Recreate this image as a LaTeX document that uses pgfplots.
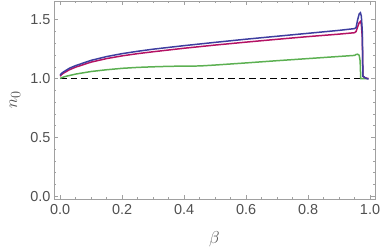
\documentclass[border=0pt]{standalone}
\usepackage{pgfplots}
\pgfplotsset{compat=1.18}
\usepackage{fontspec}
\setmainfont{Liberation Sans}
\definecolor{blueC}{RGB}{62,62,160}
\definecolor{redC}{RGB}{180,18,100}
\definecolor{greenC}{RGB}{92,176,82}
\definecolor{frameC}{RGB}{160,160,160}
\definecolor{labC}{RGB}{80,80,80}
\begin{document}
\begin{tikzpicture}
\begin{axis}[
  width=321bp, height=198bp, scale only axis,
  xmin=-0.02, xmax=1.016, ymin=-0.025, ymax=1.66,
  xtick={0,0.2,0.4,0.6,0.8,1.0}, ytick={0,0.5,1,1.5},
  minor x tick num=3, minor y tick num=4,
  tick align=inside, major tick length=4bp, minor tick length=2.2bp,
  axis line style={frameC, line width=0.8pt},
  every tick/.style={frameC, line width=0.6pt},
  /pgf/number format/assume math mode=true,
  /pgf/number format/.cd, fixed, fixed zerofill, precision=1, /pgfplots/.cd,
  ticklabel style={font=\fontsize{14.5}{15}\selectfont, text=labC},
  xticklabel style={yshift=-2bp},
  xlabel={$\beta$}, ylabel={$n_0$},
  label style={font=\fontsize{19}{20}\selectfont, text=labC},
  xlabel style={yshift=-10bp},
  ylabel style={yshift=3bp},
  clip=false,
]
\addplot[black, line width=1.4pt, dash pattern=on 6.5bp off 4bp] coordinates {(0,1) (0.99,1)};
\addplot[greenC, line width=1.5pt] coordinates {
(0,1.0) (0.005,1.008) (0.02,1.02) (0.05,1.038) (0.1,1.06) (0.15,1.075) (0.2,1.087) (0.25,1.095) (0.3,1.10) (0.35,1.104) (0.4,1.106) (0.45,1.107)
(0.5,1.115) (0.6,1.133) (0.7,1.152) (0.8,1.170) (0.9,1.188) (0.95,1.197) (0.955,1.205) (0.96,1.207) (0.965,1.198) (0.968,1.15) (0.97,1.0) (0.99,1.0)};
\addplot[redC, line width=1.5pt] coordinates {
(0,1.02) (0.005,1.035) (0.01,1.045) (0.03,1.075) (0.05,1.097) (0.1,1.14) (0.15,1.17) (0.2,1.193) (0.25,1.212) (0.3,1.228) (0.4,1.258) (0.5,1.285) (0.6,1.31) (0.7,1.334) (0.8,1.357) (0.9,1.378) (0.95,1.39)
(0.955,1.40) (0.96,1.44) (0.965,1.475) (0.969,1.485) (0.972,1.46) (0.975,1.35) (0.977,1.02) (0.985,1.005) (0.995,1.0)};
\addplot[blueC, line width=1.5pt] coordinates {
(0,1.03) (0.005,1.045) (0.01,1.055) (0.03,1.088) (0.05,1.11) (0.1,1.155) (0.15,1.187) (0.2,1.212) (0.25,1.232) (0.3,1.25) (0.4,1.28) (0.5,1.308) (0.6,1.335) (0.7,1.36) (0.8,1.385) (0.9,1.41) (0.95,1.425)
(0.955,1.435) (0.96,1.50) (0.965,1.55) (0.969,1.56) (0.972,1.53) (0.975,1.40) (0.977,1.02) (0.985,1.005) (0.995,0.995)};
\coordinate (bl) at (rel axis cs:-0.168,-0.263);
\coordinate (tr) at (rel axis cs:1.0156,1.005);
\end{axis}
\pgfresetboundingbox
\path[use as bounding box] (bl) rectangle (tr);
\end{tikzpicture}
\end{document}
